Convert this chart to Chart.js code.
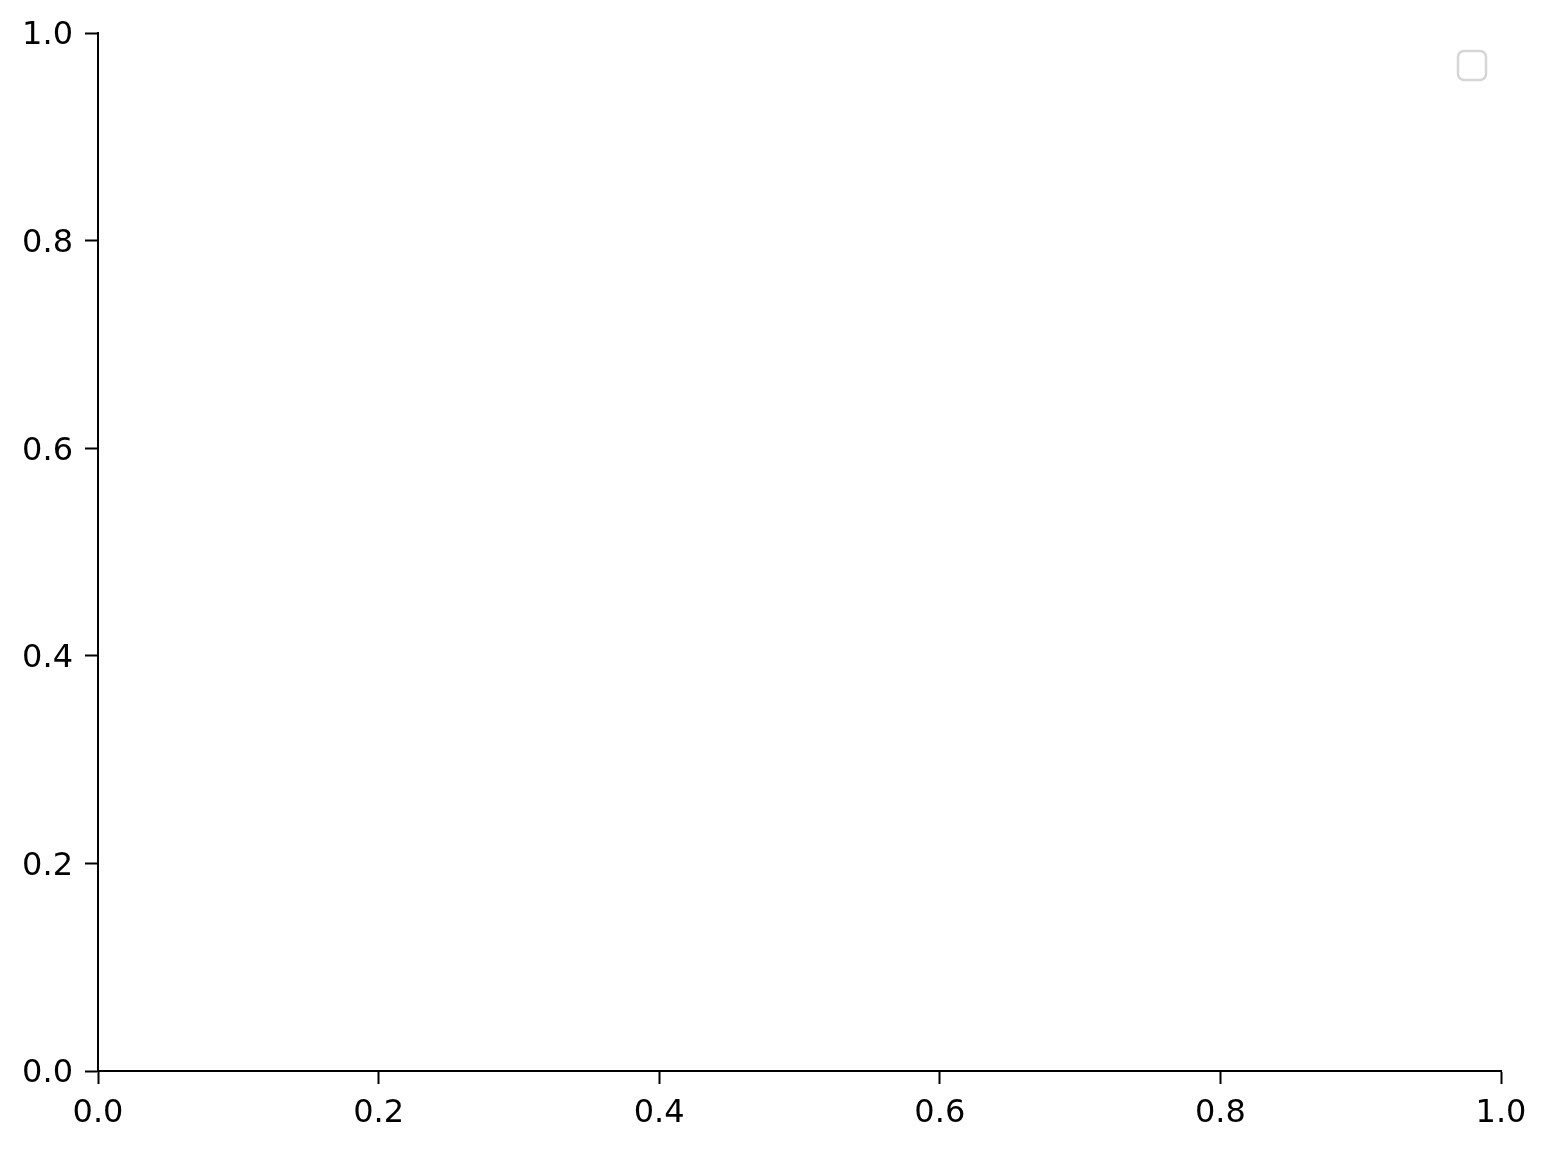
<!DOCTYPE html>
<html>
<head>
<meta charset="utf-8">
<title>Empty axes</title>
<script src="https://cdn.jsdelivr.net/npm/chart.js@4.4.1/dist/chart.umd.min.js"></script>
<style>
  body { margin: 0; background: #fff; }
  canvas { display: block; }
</style>
</head>
<body>
<canvas id="myChart" width="1550" height="1150"></canvas>
<script>
// no series in the figure, only the axes and an empty legend
const seriesLabels = [];
const seriesPoints = [];
const xTicks = [0.0, 0.2, 0.4, 0.6, 0.8, 1.0];
const yTicks = [0.0, 0.2, 0.4, 0.6, 0.8, 1.0];

// empty legend frame (matplotlib draws one even with no handles)
const emptyLegend = {
    id: 'emptyLegend',
    afterDraw(chart) {
        const { ctx, chartArea } = chart;
        const w = 28, h = 29;
        const x = chartArea.right - 15 - w;
        const y = chartArea.top + 18;
        ctx.save();
        ctx.strokeStyle = '#d6d6d6';
        ctx.lineWidth = 2.5;
        ctx.beginPath();
        ctx.roundRect(x, y, w, h, 6);
        ctx.stroke();
        ctx.restore();
    }
};

const tickFont = { family: 'DejaVu Sans', size: 32 };

new Chart(document.getElementById('myChart').getContext('2d'), {
    type: 'scatter',
    data: {
        datasets: seriesLabels.map((l, i) => ({ label: l, data: seriesPoints[i] }))
    },
    options: {
        responsive: false,
        animation: false,
        devicePixelRatio: 1,
        layout: { padding: { top: 33, right: 49, left: 0, bottom: 0 } },
        plugins: {
            legend: { display: false },
            tooltip: { enabled: false }
        },
        scales: {
            x: {
                type: 'linear',
                min: 0, max: 1,
                afterBuildTicks: s => { s.ticks = xTicks.map(v => ({ value: v })); },
                afterFit: s => { s.height = 79; },
                grid: { drawOnChartArea: false, drawTicks: true, tickLength: 13, tickWidth: 2, color: '#000' },
                border: { display: true, color: '#000', width: 2 },
                ticks: { color: '#000', font: tickFont, padding: 10, maxRotation: 0,
                         callback: v => v.toFixed(1) }
            },
            y: {
                type: 'linear',
                min: 0, max: 1,
                afterBuildTicks: s => { s.ticks = yTicks.map(v => ({ value: v })); },
                afterFit: s => { s.width = 98; },
                grid: { drawOnChartArea: false, drawTicks: true, tickLength: 13, tickWidth: 2, color: '#000' },
                border: { display: true, color: '#000', width: 2 },
                ticks: { color: '#000', font: tickFont, padding: 12, labelOffset: 3,
                         callback: v => v.toFixed(1) }
            }
        }
    },
    plugins: [emptyLegend]
});
</script>
</body>
</html>
